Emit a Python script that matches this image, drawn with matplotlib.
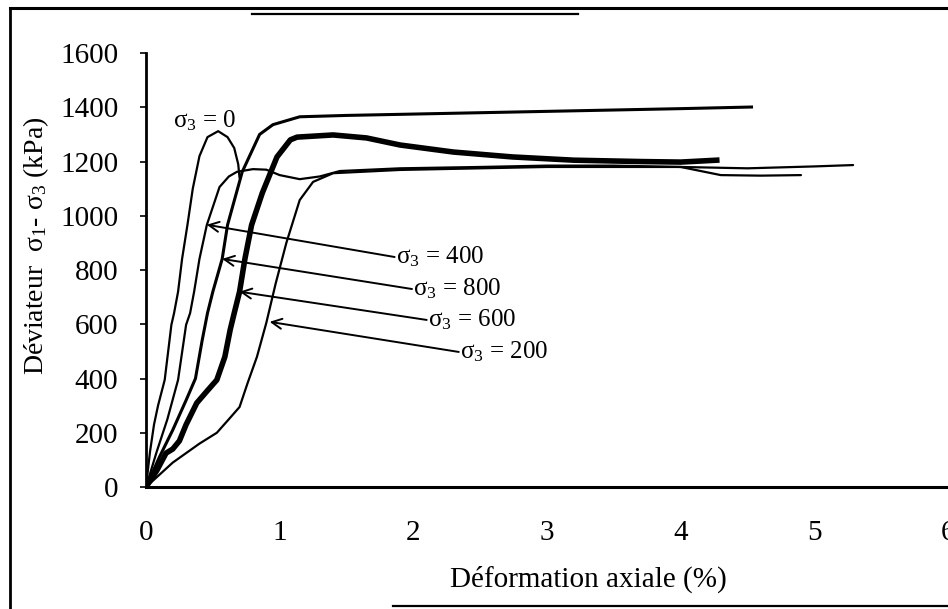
import numpy as np
import matplotlib.pyplot as plt
from matplotlib.lines import Line2D

plt.rcParams['font.family'] = ['Liberation Serif', 'DejaVu Serif']
plt.rcParams['mathtext.default'] = 'regular'

# ---- deviator stress curves (strain in %, q in kPa) ----
eps_0 = [0, 0.03, 0.06, 0.09, 0.14, 0.19, 0.21, 0.24, 0.27, 0.31, 0.35, 0.40, 0.46, 0.54, 0.61, 0.66, 0.69, 0.70]
q_0 = [0, 130, 230, 300, 395, 598, 641, 720, 841, 966, 1100, 1220, 1290, 1312, 1290, 1250, 1190, 1140]

eps_200 = [0, 0.20, 0.40, 0.53, 0.62, 0.70, 0.76, 0.83, 0.90, 0.97, 1.05, 1.15, 1.25, 1.40, 1.90, 2.50, 3.00, 4.00, 4.50, 5.00, 5.29]
q_200 = [0, 90, 160, 200, 250, 295, 383, 480, 605, 750, 900, 1058, 1125, 1157, 1169, 1175, 1180, 1180, 1175, 1182, 1187]

eps_400 = [0, 0.08, 0.16, 0.24, 0.30, 0.33, 0.36, 0.40, 0.455, 0.55, 0.62, 0.68, 0.80, 0.90, 1.00, 1.15, 1.30, 1.45, 1.90, 2.50, 3.00, 3.50, 4.00, 4.15, 4.30, 4.60, 4.90]
q_400 = [0, 130, 250, 395, 598, 641, 720, 841, 966, 1106, 1145, 1162, 1172, 1170, 1150, 1135, 1145, 1165, 1175, 1180, 1185, 1185, 1180, 1165, 1150, 1148, 1150]

eps_600 = [0, 0.08, 0.15, 0.20, 0.25, 0.30, 0.38, 0.45, 0.53, 0.59, 0.63, 0.66, 0.70, 0.74, 0.79, 0.87, 0.98, 1.08, 1.13, 1.40, 1.65, 1.90, 2.30, 2.74, 3.20, 3.70, 4.00, 4.27]
q_600 = [0, 60, 125, 140, 170, 230, 310, 350, 395, 480, 580, 641, 720, 841, 966, 1084, 1217, 1280, 1290, 1298, 1287, 1261, 1235, 1217, 1205, 1200, 1198, 1205]

eps_800 = [0, 0.10, 0.20, 0.30, 0.37, 0.42, 0.46, 0.50, 0.57, 0.61, 0.72, 0.85, 0.95, 1.15, 1.50, 2.00, 3.00, 4.00, 4.53]
q_800 = [0, 110, 210, 320, 400, 540, 641, 720, 841, 966, 1162, 1300, 1336, 1365, 1370, 1375, 1385, 1395, 1401]

# ---- callouts: label, arrow tip, label anchor ----
labels = ['400', '800', '600', '200']
tips = [(0.455, 967), (0.57, 841), (0.70, 720), (0.925, 609)]
tails = [(1.86, 848), (1.99, 730), (2.10, 616), (2.34, 498)]

fig = plt.figure(figsize=(9.48, 6.09), dpi=100)
ax = fig.add_axes([0.154, 0.2003, 0.846, 0.7126])

thin = dict(color='black', lw=1.6, solid_capstyle='round')
ax.plot(eps_0, q_0, **thin)
ax.plot(eps_200, q_200, **thin)
ax.plot(eps_400, q_400, **thin)
ax.plot(eps_800, q_800, color='black', lw=2.2)
ax.plot(eps_600, q_600, color='black', lw=4.0)

for lab, tip, tail in zip(labels, tips, tails):
    ax.annotate('', xy=tip, xytext=tail,
                arrowprops=dict(arrowstyle='->', lw=1.4, color='black',
                                mutation_scale=18, shrinkA=0, shrinkB=0))
    ax.text(tail[0] + 0.01, tail[1], r'$\sigma_3$ = ' + lab,
            fontsize=18, ha='left', va='center')

ax.text(0.20, 1352, r'$\sigma_3$ = 0', fontsize=18, ha='left', va='center')

ax.set_xlim(0, 6)
ax.set_ylim(0, 1600)
ax.set_xticks(range(0, 7))
ax.set_yticks(range(0, 1601, 200))
ax.tick_params(axis='y', direction='out', length=4, width=1.2, labelsize=21, pad=16)
ax.tick_params(axis='x', length=0, labelsize=21, pad=24)
for side in ['top', 'right']:
    ax.spines[side].set_visible(False)
ax.spines['left'].set_linewidth(2)
ax.spines['bottom'].set_linewidth(2.2)
for lbl in ax.get_xticklabels():
    lbl.set_clip_on(False)

ax.set_xlabel('Déformation axiale (%)', fontsize=21)
ax.xaxis.set_label_coords(0.551, -0.182)
ax.set_ylabel(r'Déviateur  $\sigma_1$- $\sigma_3$ (kPa)', fontsize=20)
ax.yaxis.set_label_coords(-0.118, 0.555)

# page frame around the figure
fig.add_artist(Line2D([10 / 948, 10 / 948], [0, 1 - 8 / 609], transform=fig.transFigure, color='black', lw=2))
fig.add_artist(Line2D([10 / 948, 1], [1 - 8 / 609, 1 - 8 / 609], transform=fig.transFigure, color='black', lw=2.2))
fig.add_artist(Line2D([252 / 948, 578 / 948], [1 - 14 / 609, 1 - 14 / 609], transform=fig.transFigure, color='black', lw=1.6))
fig.add_artist(Line2D([393 / 948, 1], [1 - 606 / 609, 1 - 606 / 609], transform=fig.transFigure, color='black', lw=1.6))

fig.savefig('out.png', dpi=100)
